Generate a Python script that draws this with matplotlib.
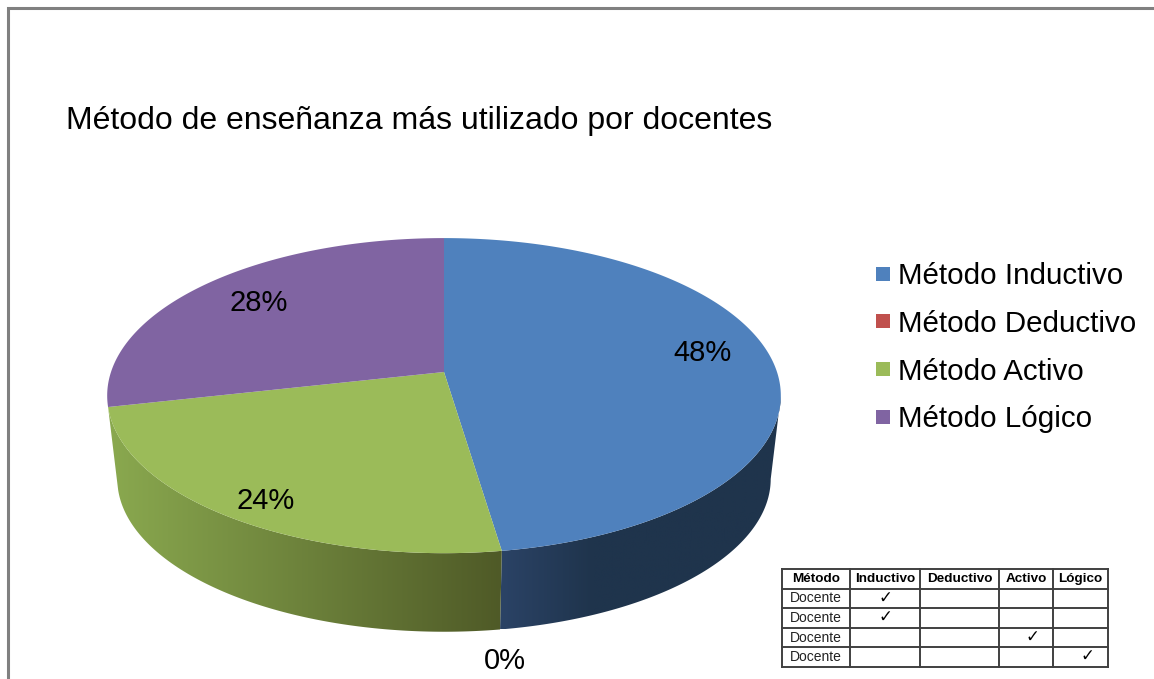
import numpy as np
from matplotlib import pyplot as plt
from matplotlib.colors import LinearSegmentedColormap
from matplotlib.lines import Line2D
from matplotlib.patches import Polygon

plt.rcParams['font.family'] = ['Liberation Sans', 'DejaVu Sans']

title = 'Método de enseñanza más utilizado por docentes'
methods = ['Método Inductivo', 'Método Deductivo', 'Método Activo', 'Método Lógico']
shares = [48, 0, 24, 28]
colors = ['#4f81bd', '#c0504d', '#9bbb59', '#8064a2']
# colours of the side wall of each slice, left to right
wall_colors = [('#2b4366', '#1f344c', '#1f344c', '#1f344c'), None, ('#8aa94f', '#4f5a27'), None]

table_head = ['Método', 'Inductivo', 'Deductivo', 'Activo', 'Lógico']
table_rows = ['Docente', 'Docente', 'Docente', 'Docente']
table_checks = [1, 1, 3, 4]

# pie geometry in pixels
cx, cy = 444, 372
R, S, k = 333, 154, 0.15
wall_scale, wall_drop = 0.97, 84
edge_fix = np.radians([0, -1.3, -1.3, -1.9, 0])  # small correction of the drawn perspective
label_xy = [(703, 353), (505, 661), (266, 501), (259, 303)]


def rim(theta, scale=1.0, drop=0.0):
    # circle seen in perspective, theta clockwise from the top
    w = 1 + k * np.cos(theta)
    x = cx + scale * R * np.sin(theta) / w
    y = cy + drop - scale * S * np.cos(theta) / w
    return x, y


fig = plt.figure(figsize=(11.54, 6.79), dpi=100)
ax = fig.add_axes([0, 0, 1, 1])
ax.set_xlim(0, 1154)
ax.set_ylim(679, 0)
ax.axis('off')

# frame of the screenshot
ax.plot([8, 8, 1154], [679, 8, 8], color='#808080', lw=2.2, solid_joinstyle='miter')

edges = np.cumsum([0] + shares) / sum(shares) * 2 * np.pi + edge_fix
probe = np.linspace(0, 2 * np.pi, 2000)
th_right = probe[np.argmax(rim(probe)[0])]
th_left = probe[np.argmin(rim(probe)[0])]

# side walls first, the top goes over them
for i in range(len(shares)):
    if wall_colors[i] is None or shares[i] == 0:
        continue
    a = max(edges[i], th_right)
    b = min(edges[i + 1], th_left)
    th = np.linspace(a, b, 200)
    tx, ty = rim(th)
    bx, by = rim(th, wall_scale, wall_drop)
    pts = np.column_stack([np.r_[tx, bx[::-1]], np.r_[ty, by[::-1]]])
    poly = Polygon(pts, closed=True, facecolor='none', edgecolor='none')
    ax.add_patch(poly)
    cmap = LinearSegmentedColormap.from_list('wall', wall_colors[i])
    img = ax.imshow(np.linspace(0, 1, 256)[None, :], cmap=cmap, aspect='auto',
                    extent=[pts[:, 0].min(), pts[:, 0].max(), pts[:, 1].max(), pts[:, 1].min()])
    img.set_clip_path(poly)
ax.set_xlim(0, 1154)
ax.set_ylim(679, 0)

# top of the pie
for i in range(len(shares)):
    if shares[i] == 0:
        continue
    th = np.linspace(edges[i], edges[i + 1], 300)
    tx, ty = rim(th)
    ax.fill(np.r_[cx, tx], np.r_[cy, ty], color=colors[i], lw=0)

for i in range(len(shares)):
    ax.text(label_xy[i][0], label_xy[i][1], '%d%%' % shares[i], fontsize=21,
            ha='center', va='center', color='black')

ax.text(66, 120.5, title, fontsize=23, ha='left', va='center', color='black')

handles = [Line2D([], [], ls='', marker='s', ms=9.5, mew=0, color=c) for c in colors]
ax.legend(handles, methods, loc='upper left', bbox_to_anchor=(868 / 1154, 1 - 262 / 679),
          frameon=False, fontsize=21.25, handlelength=1.0, handletextpad=0.02,
          labelspacing=0.67, borderaxespad=0, borderpad=0)

# small table pasted in the corner
col_x = [782, 850, 920, 999, 1053, 1108]
row_y = [569, 589, 608, 628, 647, 667]
check_shift = [0, 0, 0, 6, 7]
for x in col_x:
    ax.plot([x, x], [row_y[0], row_y[-1]], color='#404040', lw=1.4)
for y in row_y:
    ax.plot([col_x[0], col_x[-1]], [y, y], color='#404040', lw=1.4)
for j in range(len(table_head)):
    ax.text((col_x[j] + col_x[j + 1]) / 2, (row_y[0] + row_y[1]) / 2, table_head[j],
            fontsize=9.7, fontweight='bold', ha='center', va='center')
for r in range(len(table_rows)):
    ym = (row_y[r + 1] + row_y[r + 2]) / 2
    ax.text((col_x[0] + col_x[1]) / 2, ym, table_rows[r], fontsize=10,
            ha='center', va='center', color='#222222')
    c = table_checks[r]
    ax.text((col_x[c] + col_x[c + 1]) / 2 + check_shift[c], ym - 1, '\u2713', fontsize=12,
            ha='center', va='center', family='DejaVu Sans')

fig.savefig('out.png', dpi=100)
